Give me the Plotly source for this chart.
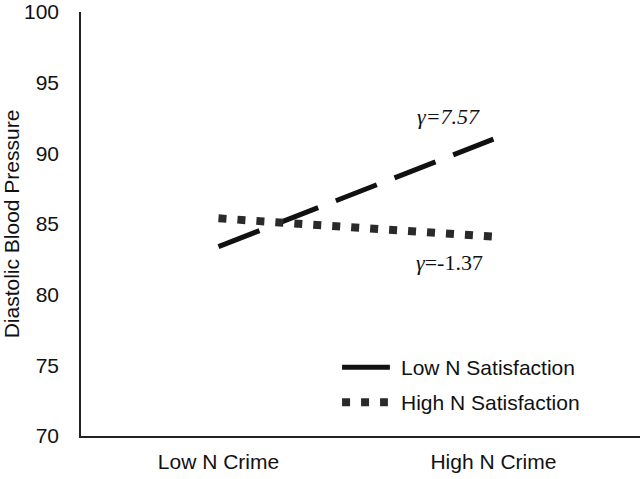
import plotly.graph_objects as go

categories = ["Low N Crime", "High N Crime"]
low_sat = [83.4, 91.0]
high_sat = [85.4, 84.1]
series_names = ["Low N Satisfaction", "High N Satisfaction"]
gamma_labels = ["<i>γ=7.57</i>", "<i>γ</i>=-1.37"]
y_ticks = [70, 75, 80, 85, 90, 95, 100]

FONT = "Arial, Liberation Sans, sans-serif"
SERIF = "Times New Roman, Liberation Serif, serif"
FS = 21
DASH_STYLE = dict(color="#111111", width=5, dash="44px,19px")
DOT_STYLE = dict(color="#2a2a2a", width=8, dash="8px,11px")

fig = go.Figure()
fig.add_trace(go.Scatter(x=categories, y=low_sat, mode="lines", name=series_names[0],
                         line=DASH_STYLE, showlegend=False))
fig.add_trace(go.Scatter(x=categories, y=high_sat, mode="lines", name=series_names[1],
                         line=DOT_STYLE, showlegend=False))

# gamma annotations
fig.add_annotation(x=0.835, y=92.6, xref="x", yref="y", text=gamma_labels[0], showarrow=False,
                   font=dict(family=SERIF, size=22, color="#111"))
fig.add_annotation(x=0.84, y=82.25, xref="x", yref="y", text=gamma_labels[1], showarrow=False,
                   font=dict(family=SERIF, size=22, color="#111"))

# manual legend (samples wider than plotly's 30px legend symbol)
W, H = 640, 479
L, T, B = 79, 10, 43
def px(xp):
    return (xp - L) / (W - L)
def py(yp):
    return 1 - (yp - T) / (H - T - B)

fig.add_shape(type="line", xref="paper", yref="paper", x0=px(341), x1=px(389), y0=py(367), y1=py(367),
              line=dict(color="#111111", width=5))
fig.add_shape(type="line", xref="paper", yref="paper", x0=px(341), x1=px(387), y0=py(402), y1=py(402),
              line=DOT_STYLE)
fig.add_annotation(x=px(398), y=py(367), xref="paper", yref="paper", text=series_names[0],
                   showarrow=False, xanchor="left", yanchor="middle",
                   font=dict(family=FONT, size=FS, color="#111"))
fig.add_annotation(x=px(398), y=py(402), xref="paper", yref="paper", text=series_names[1],
                   showarrow=False, xanchor="left", yanchor="middle",
                   font=dict(family=FONT, size=FS, color="#111"))

fig.update_layout(
    width=W, height=H,
    margin=dict(l=L, r=0, t=T, b=B, pad=0),
    plot_bgcolor="white", paper_bgcolor="white",
    font=dict(family=FONT, size=FS, color="#111"),
)
fig.update_xaxes(type="category", range=[-0.5, 1.533], showline=True, linecolor="#222", linewidth=1.5,
                 showgrid=False, zeroline=False, ticks="", ticklabelstandoff=6,
                 tickfont=dict(size=FS))
fig.update_yaxes(range=[70, 100], tickvals=y_ticks, showline=True, linecolor="#222", linewidth=1.5,
                 showgrid=False, zeroline=False, ticks="", ticklabelstandoff=16,
                 ticklabeloverflow="allow", tickfont=dict(size=FS),
                 title=dict(text="Diastolic Blood Pressure", font=dict(size=FS), standoff=9))

fig.write_html("out.html", config={"displayModeBar": False},
               post_script="document.body.style.margin='0';")
